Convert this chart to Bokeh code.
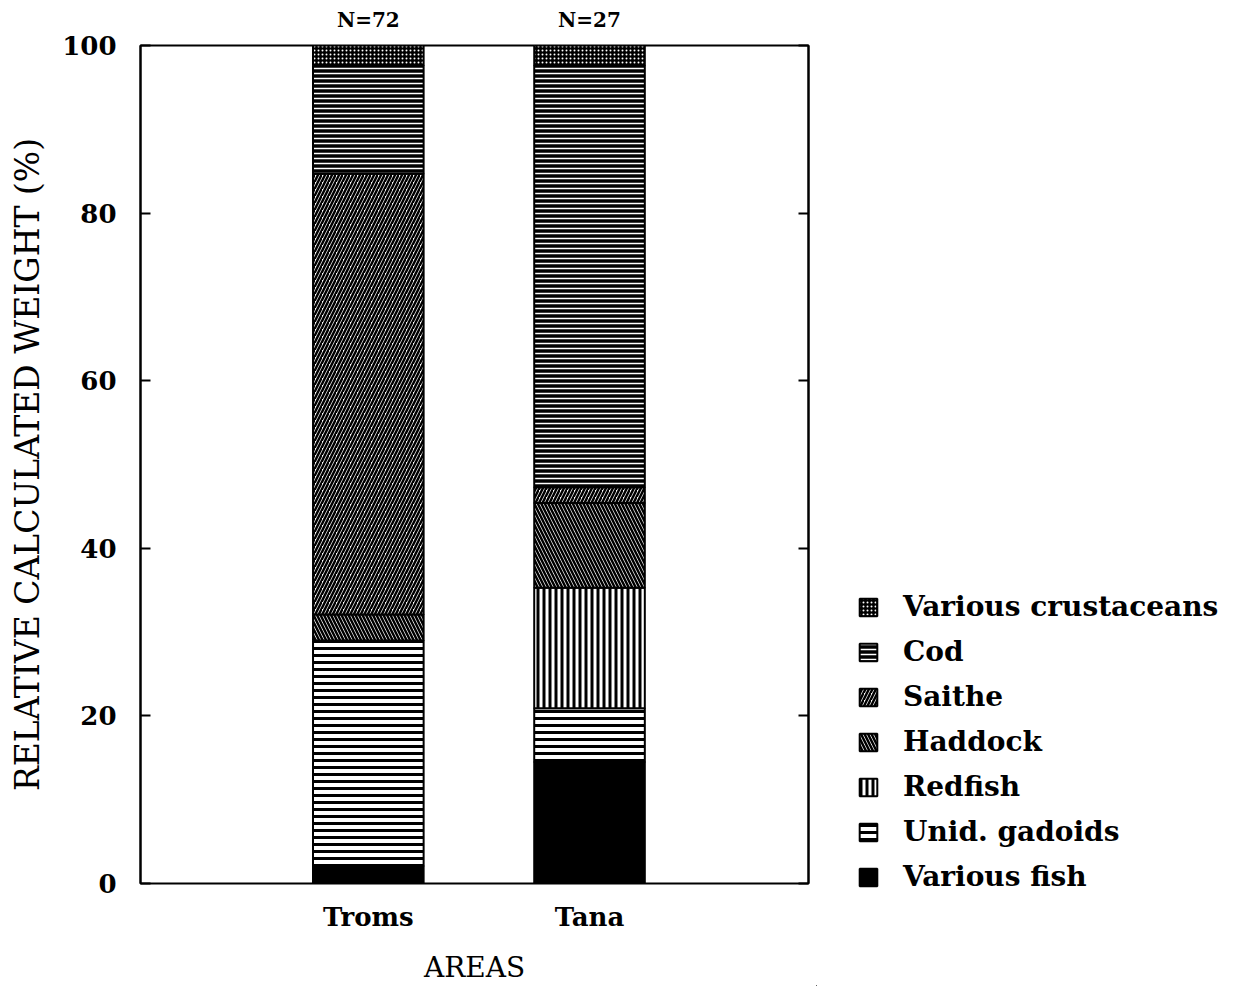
from bokeh.plotting import figure
from bokeh.layouts import row, column
from bokeh.models import LinearAxis, FixedTicker, Range1d, Legend, LegendItem, ColumnDataSource
from bokeh.embed import file_html
from bokeh.resources import INLINE

# ---- data ----
areas = ["Troms", "Tana"]
sample_sizes = ["N=72", "N=27"]
categories = ["Various fish", "Unid. gadoids", "Redfish", "Haddock",
              "Saithe", "Cod", "Various crustaceans"]
various_fish = [2.1, 14.5]
unid_gadoids = [26.9, 6.4]
redfish = [0.0, 14.4]
haddock = [3.1, 10.1]
saithe = [52.6, 1.9]
cod = [12.9, 50.3]
various_crustaceans = [2.4, 2.4]
y_ticks = [0, 20, 40, 60, 80, 100]

keys = ["various_fish", "unid_gadoids", "redfish", "haddock", "saithe", "cod", "various_crustaceans"]
xs = [i + 1 for i in range(len(areas))]
source = ColumnDataSource(dict(
    x=xs,
    various_fish=various_fish, unid_gadoids=unid_gadoids, redfish=redfish,
    haddock=haddock, saithe=saithe, cod=cod, various_crustaceans=various_crustaceans,
))

SERIF = "DejaVu Serif"
TOTAL_W, H = 1226, 986
MAIN_W = 816

p = figure(width=MAIN_W, height=H, output_backend="svg", toolbar_location=None,
           x_range=Range1d(-0.03, 2.99), y_range=Range1d(0, 100),
           x_axis_type=None, y_axis_type=None,
           min_border_left=140, min_border_right=8, min_border_top=45, min_border_bottom=103)
p.grid.visible = False
p.outline_line_color = "black"
p.outline_line_width = 2
p.background_fill_color = "white"

fills = ["black", "white", "white", "white", "white", "black", "black"]
hatches = [" ", "-", "|", "\\", "/", "-", "."]
hcolors = ["black", "black", "black", "black", "black", "white", "white"]
hweights = [1, 3, 3, 2.5, 2.5, 1.5, 1.5]
hscales = [8, 7, 6, 7, 7, 5, 4]
styles = [dict(fill_color=f, hatch_pattern=h, hatch_color=c, hatch_weight=w, hatch_scale=s,
               line_color="black", line_width=2)
          for f, h, c, w, s in zip(fills, hatches, hcolors, hweights, hscales)]

renderers = p.vbar_stack(keys, x="x", width=0.5, source=source,
                         fill_color=fills, hatch_pattern=hatches, hatch_color=hcolors,
                         hatch_weight=hweights, hatch_scale=hscales,
                         line_color="black", line_width=2)

# axes
yl = LinearAxis(ticker=FixedTicker(ticks=y_ticks), axis_label="RELATIVE CALCULATED WEIGHT (%)")
yr = LinearAxis(ticker=FixedTicker(ticks=y_ticks))
for ax in (yl, yr):
    ax.major_tick_in = 10
    ax.major_tick_out = 0
    ax.minor_tick_line_color = None
    ax.major_tick_line_width = 2
    ax.axis_line_width = 2
    ax.major_label_text_font = SERIF
    ax.major_label_text_font_style = "bold"
    ax.major_label_text_font_size = "26px"
    ax.major_label_text_color = "black"
yl.major_label_standoff = 24
yl.axis_label_text_font = SERIF
yl.axis_label_text_font_style = "normal"
yl.axis_label_text_font_size = "33px"
yl.axis_label_standoff = 12
yl.axis_label_text_color = "black"
yr.major_label_text_alpha = 0
yr.major_label_text_font_size = "1px"
yr.major_label_standoff = 0
p.add_layout(yl, "left")
p.add_layout(yr, "right")

xb = LinearAxis(ticker=FixedTicker(ticks=xs), axis_label="AREAS",
                major_label_overrides={x: a for x, a in zip(xs, areas)})
xb.major_tick_line_color = None
xb.minor_tick_line_color = None
xb.axis_line_color = None
xb.major_label_text_font = SERIF
xb.major_label_text_font_style = "bold"
xb.major_label_text_font_size = "26px"
xb.major_label_text_color = "black"
xb.major_label_standoff = 12
xb.axis_label_text_font = SERIF
xb.axis_label_text_font_style = "normal"
xb.axis_label_text_font_size = "28px"
xb.axis_label_text_color = "black"
xb.axis_label_standoff = 16
p.add_layout(xb, "below")

xt = LinearAxis(ticker=FixedTicker(ticks=xs),
                major_label_overrides={x: s for x, s in zip(xs, sample_sizes)})
xt.major_tick_line_color = None
xt.minor_tick_line_color = None
xt.axis_line_color = None
xt.major_label_text_font = SERIF
xt.major_label_text_font_style = "bold"
xt.major_label_text_font_size = "20px"
xt.major_label_text_color = "black"
xt.major_label_standoff = 8
p.add_layout(xt, "above")

# ---- legend panel (separate figure to the right of the frame) ----
LEG_W = TOTAL_W - MAIN_W
q = figure(width=LEG_W, height=H, output_backend="svg", toolbar_location=None,
           x_range=Range1d(0, LEG_W), y_range=Range1d(0, H),
           x_axis_type=None, y_axis_type=None,
           min_border_left=0, min_border_right=0, min_border_top=0, min_border_bottom=0)
q.grid.visible = False
q.outline_line_color = None

# placeholder renderers (a single zero-height bar outside the visible range) that carry the legend swatch styles
leg_renderers = [q.vbar(x=[-LEG_W], top=[0], width=1, **st) for st in styles]
items = [LegendItem(label=c, renderers=[r]) for c, r in zip(categories, leg_renderers)][::-1]
legend = Legend(items=items, location=(41, 93))
legend.border_line_color = None
legend.background_fill_alpha = 0
legend.padding = 0
legend.margin = 0
legend.label_text_font = SERIF
legend.label_text_font_style = "bold"
legend.label_text_font_size = "28px"
legend.label_text_color = "black"
legend.glyph_width = 22
legend.glyph_height = 22
legend.label_standoff = 24
legend.label_height = 33
legend.spacing = 12
q.add_layout(legend, "center")

layout = row(p, column(q))
open("out.html", "w").write(file_html(layout, INLINE))
